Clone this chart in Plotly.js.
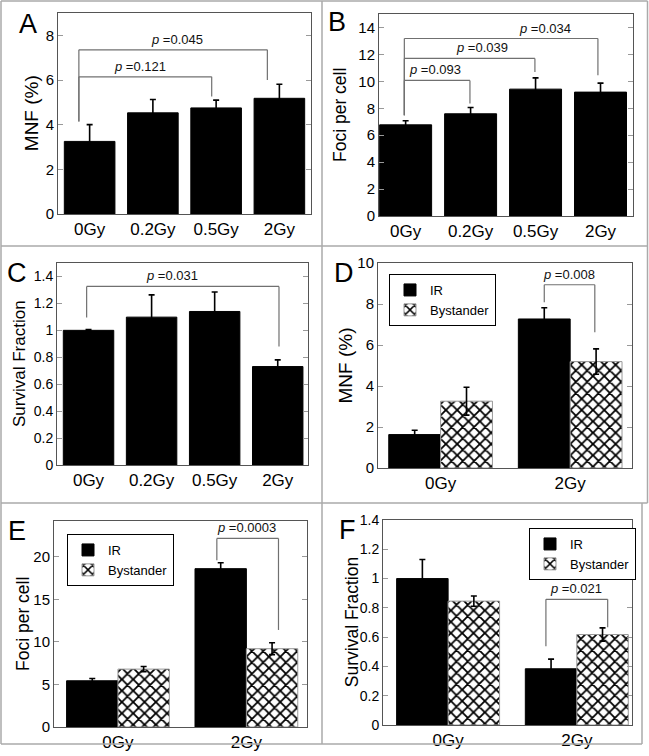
<!DOCTYPE html>
<html><head><meta charset="utf-8">
<script src="https://cdn.plot.ly/plotly-3.0.1.min.js"></script>
<style>html,body{margin:0;padding:0;background:#fff}#chart{width:649px;height:756px}</style>
</head><body><div id="chart"></div>
<script>
// ---------- data ----------
const doses4 = ['0Gy', '0.2Gy', '0.5Gy', '2Gy'];
const doses2 = ['0Gy', '2Gy'];

const mnfA = [3.25, 4.53, 4.75, 5.18];
const mnfAErr = [0.75, 0.60, 0.35, 0.63];

const fociB = [6.77, 7.59, 9.42, 9.20];
const fociBErr = [0.30, 0.47, 0.84, 0.67];

const survC = [1.00, 1.098, 1.14, 0.731];
const survCErr = [0.005, 0.165, 0.145, 0.05];

const mnfIR = [1.63, 7.27];
const mnfIRErr = [0.21, 0.55];
const mnfBy = [3.26, 5.19];
const mnfByErr = [0.68, 0.62];

const fociIR = [5.43, 18.6];
const fociIRErr = [0.27, 0.70];
const fociBy = [6.80, 9.20];
const fociByErr = [0.30, 0.70];

const survIR = [1.00, 0.384];
const survIRErr = [0.13, 0.066];
const survBy = [0.846, 0.618];
const survByErr = [0.035, 0.045];

const seriesNames = ['IR', 'Bystander'];
const panelLetters = ['A', 'B', 'C', 'D', 'E', 'F'];
const yTitles = ['MNF (%)', 'Foci per cell', 'Survival Fraction', 'MNF (%)', 'Foci per cell', 'Survival Fraction'];

// p-value brackets: [left x, right x, top y, left leg bottom, right leg bottom, label, label x]
const bracketsA = [[-0.17, 1.93, 6.14, 4.14, 5.26, '0.121', 0.80], [-0.17, 2.81, 7.35, 4.14, 6.0, '0.045', 1.38]];
const bracketsB = [[-0.02, 0.99, 10.07, 7.49, 8.36, '0.093', 0.45], [-0.02, 1.99, 11.7, 7.49, 10.7, '0.039', 1.17], [-0.02, 2.96, 13.18, 7.49, 10.46, '0.034', 2.14]];
const bracketsC = [[-0.03, 3.02, 1.326, 1.095, 0.88, '0.031', 1.33]];
const bracketsD = [[0.80, 1.19, 8.94, 8.09, 6.62, '0.008', 0.99]];
const bracketsE = [[0.77, 1.25, 22.15, 19.6, 11.4, '0.0003', 1.0]];
const bracketsF = [[0.76, 1.24, 0.858, 0.537, 0.668, '0.021', 0.99]];

// ---------- layout geometry (pixels) ----------
const W = 649, H = 756;
const FONT = 'Liberation Sans, Arial, Helvetica, sans-serif';
const frames = [
  {x0: 58, x1: 311, y0: 13, y1: 214, xr: [-0.5, 3.5], yr: [0, 9], dt: 2, yfs: 15, tx: 31.7, tfs: 19},
  {x0: 379, x1: 633, y0: 14, y1: 216, xr: [-0.41, 3.5], yr: [0, 15], dt: 2, yfs: 15, tx: 340, tfs: 17.5},
  {x0: 57, x1: 308, y0: 263, y1: 465, xr: [-0.5, 3.48], yr: [0, 1.5], dt: 0.2, yfs: 14, tx: 20, tfs: 17},
  {x0: 378, x1: 632, y0: 263, y1: 468, xr: [-0.483, 1.477], yr: [0, 10], dt: 2, yfs: 15, tx: 345, tfs: 19},
  {x0: 54, x1: 307, y0: 521, y1: 727, xr: [-0.498, 1.472], yr: [0, 24.2], dt: 5, yfs: 15, tx: 23, tfs: 17.5},
  {x0: 383, x1: 632, y0: 520, y1: 725, xr: [-0.506, 1.429], yr: [0, 1.4], dt: 0.2, yfs: 14, tx: 351.7, tfs: 17.5}
];
const letterPos = [[28, 24], [337, 22], [17, 273], [344, 273], [17, 531], [347, 530]];
const legendPos = [null, null, null, [389, 274], [67, 534], [529, 528]];

const px = v => v / W, py = v => 1 - v / H;

const layout = {
  width: W, height: H, margin: {l: 0, r: 0, t: 0, b: 0},
  paper_bgcolor: '#fff', plot_bgcolor: '#fff',
  font: {family: FONT, color: '#000'},
  barmode: 'group', bargap: 0.2, bargroupgap: 0,
  showlegend: true,
  shapes: [], annotations: []
};

frames.forEach((f, i) => {
  const k = i === 0 ? '' : String(i + 1);
  layout['xaxis' + k] = {
    domain: [px(f.x0), px(f.x1)], anchor: 'y' + k, type: 'category', range: f.xr,
    showline: true, linecolor: '#555', linewidth: 1, mirror: true,
    ticks: '', showgrid: false, zeroline: false, tickfont: {size: 17, family: FONT},
    fixedrange: true
  };
  layout['yaxis' + k] = {
    domain: [py(f.y1), py(f.y0)], anchor: 'x' + k, range: f.yr, dtick: f.dt, tick0: 0,
    showline: true, linecolor: '#555', linewidth: 1, mirror: 'allticks',
    ticks: 'inside', ticklen: 5, tickcolor: '#999', showgrid: false, zeroline: false,
    tickfont: {size: f.yfs, family: FONT}, fixedrange: true
  };
  layout.annotations.push({
    xref: 'paper', yref: 'paper', x: px(f.tx), y: py((f.y0 + f.y1) / 2),
    text: yTitles[i], textangle: -90, showarrow: false, font: {size: f.tfs, family: FONT},
    xanchor: 'center', yanchor: 'middle'
  });
  layout.annotations.push({
    xref: 'paper', yref: 'paper', x: px(letterPos[i][0]), y: py(letterPos[i][1]),
    text: panelLetters[i], showarrow: false, font: {size: 27, family: FONT},
    xanchor: 'center', yanchor: 'middle'
  });
});

// brackets
function addBrackets(list, k) {
  const xr = 'x' + k, yr = 'y' + k;
  const ln = {color: '#707070', width: 1.2};
  list.forEach(b => {
    const [xa, xb, yt, ya, yb, lab, lx] = b;
    layout.shapes.push({type: 'line', xref: xr, yref: yr, x0: xa, x1: xa, y0: ya, y1: yt, line: ln});
    layout.shapes.push({type: 'line', xref: xr, yref: yr, x0: xa, x1: xb, y0: yt, y1: yt, line: ln});
    layout.shapes.push({type: 'line', xref: xr, yref: yr, x0: xb, x1: xb, y0: yb, y1: yt, line: ln});
    layout.annotations.push({
      xref: xr, yref: yr, x: lx, y: yt, yanchor: 'bottom', yshift: 1,
      text: '<i>p</i> =' + lab, showarrow: false, font: {size: 13, family: FONT, color: '#111'}
    });
  });
}
addBrackets(bracketsA, '');
addBrackets(bracketsB, '2');
addBrackets(bracketsC, '3');
addBrackets(bracketsD, '4');
addBrackets(bracketsE, '5');
addBrackets(bracketsF, '6');

// figure panel borders
const border = {color: '#aaa', width: 1.5};
const pl = (x0, y0, x1, y1) => layout.shapes.push({type: 'line', xref: 'paper', yref: 'paper',
  x0: px(x0), x1: px(x1), y0: py(y0), y1: py(y1), line: border});
pl(1, 1, 647.5, 1); pl(1, 1, 1, 744); pl(647.5, 1, 647.5, 503); pl(642, 503, 642, 744);
pl(1, 744, 642, 744); pl(322, 1, 322, 744); pl(1, 246, 647.5, 246); pl(1, 503, 647.5, 503);

// ---------- traces ----------
const errStyle = arr => ({type: 'data', array: arr, visible: true, color: '#000', thickness: 1.6, width: 3});
const solid = {color: '#000', line: {color: '#000', width: 1}};
const hatch = {color: '#fff', line: {color: '#999', width: 1},
  pattern: {shape: 'x', fgcolor: '#000', bgcolor: '#fff', size: 8, solidity: 0.4}};

const traces = [];
function single(x, y, err, k) {
  traces.push({type: 'bar', x: x, y: y, error_y: errStyle(err), marker: solid,
    xaxis: 'x' + k, yaxis: 'y' + k, showlegend: false, hoverinfo: 'skip'});
}
single(doses4, mnfA, mnfAErr, '');
single(doses4, fociB, fociBErr, '2');
single(doses4, survC, survCErr, '3');

function pair(irY, irE, byY, byE, k, leg) {
  traces.push({type: 'bar', name: seriesNames[0], x: doses2, y: irY, error_y: errStyle(irE), marker: solid,
    xaxis: 'x' + k, yaxis: 'y' + k, legend: leg, showlegend: true, hoverinfo: 'skip'});
  traces.push({type: 'bar', name: seriesNames[1], x: doses2, y: byY, error_y: errStyle(byE), marker: hatch,
    xaxis: 'x' + k, yaxis: 'y' + k, legend: leg, showlegend: true, hoverinfo: 'skip'});
}
pair(mnfIR, mnfIRErr, mnfBy, mnfByErr, '4', 'legend');
pair(fociIR, fociIRErr, fociBy, fociByErr, '5', 'legend2');
pair(survIR, survIRErr, survBy, survByErr, '6', 'legend3');

['legend', 'legend2', 'legend3'].forEach((L, j) => {
  const p = legendPos[3 + j];
  layout[L] = {x: px(p[0]), y: py(p[1]), xanchor: 'left', yanchor: 'top', xref: 'paper', yref: 'paper',
    bordercolor: '#000', borderwidth: 1, bgcolor: '#fff', font: {size: 13, family: FONT},
    tracegroupgap: 0, traceorder: 'normal'};
});

Plotly.newPlot('chart', traces, layout, {staticPlot: true, displayModeBar: false});
</script></body></html>
